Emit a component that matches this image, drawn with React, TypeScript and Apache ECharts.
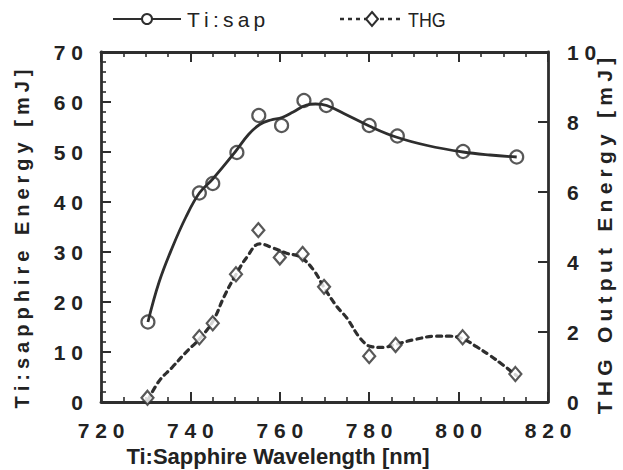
import React, { useEffect, useRef } from "react";
import * as echarts from "echarts";

// Measured points (Ti:sapphire energy, left axis, mJ)
const tiWavelength = [730.5, 742, 745, 750.4, 755.3, 760.4, 765.4, 770.4, 780, 786.3, 801, 813];
const tiEnergy = [16, 41.8, 43.7, 49.9, 57.3, 55.3, 60.3, 59.3, 55.3, 53.2, 50.1, 49];

// Measured points (THG output energy, right axis, mJ)
const thgWavelength = [730.4, 742, 745, 750.2, 755.2, 760, 765.1, 769.9, 780, 785.9, 800.9, 812.7];
const thgEnergy = [0.12, 1.85, 2.25, 3.65, 4.91, 4.13, 4.23, 3.29, 1.31, 1.63, 1.85, 0.8];

// Fitted curves as drawn in the figure
const tiFitX = [730.5, 733, 736, 739, 742, 745, 750, 753, 755.5, 758, 760.5, 763, 766, 768, 770.5, 775, 780, 786, 793, 801, 807, 813];
const tiFitY = [16, 24, 31, 37, 41.8, 44.6, 50, 53.5, 55.5, 56.4, 56.9, 58, 59.4, 59.6, 59.3, 57.4, 55.2, 53, 51.3, 50, 49.4, 49];

const thgFitX = [730.5, 733, 736, 739, 742, 745, 747.5, 750, 752.7, 755.5, 758.5, 761.5, 764.5, 767.5, 770, 772.8, 775, 778, 780.5, 783, 786, 790, 795, 798, 801, 804, 807, 810, 813];
const thgFitY = [0.05, 0.6, 1.0, 1.42, 1.8, 2.3, 3.0, 3.6, 4.15, 4.52, 4.4, 4.25, 4.15, 3.78, 3.25, 2.72, 2.4, 1.82, 1.58, 1.56, 1.65, 1.78, 1.88, 1.88, 1.8, 1.58, 1.33, 1.05, 0.75];

const xMin = 720, xMax = 820, xStep = 20;
const yLeftMax = 70, yLeftStep = 10;
const yRightMax = 10, yRightStep = 2;

const legendNames = ["Ti:sap", "THG"];
const xTitle = "Ti:Sapphire Wavelength [nm]";
const yLeftTitle = "Ti:sapphire Energy [mJ]";
const yRightTitle = "THG Output Energy [mJ]";

const INK = "#2e2e2e";
const FONT = "Liberation Sans, Arial, Helvetica, sans-serif";

const spaced = (s: string, sep: string) => s.split("").join(sep);
const digits = (v: number) => spaced(String(v), " ");

export default function App() {
  const ref = useRef<HTMLDivElement>(null);
  useEffect(() => {
    if (!ref.current) return;
    const chart = echarts.init(ref.current, undefined, { renderer: "svg" });
    const labelStyle = { fontSize: 21, fontWeight: "bold" as const, color: "#222", fontFamily: FONT };
    const axisLine = { show: true, onZero: false, lineStyle: { color: INK, width: 2.8 } };
    const xCommon = {
      type: "value" as const,
      min: xMin,
      max: xMax,
      interval: xStep,
      axisLine,
      axisTick: { show: true, inside: true, length: 10, lineStyle: { color: INK, width: 2 } },
      minorTick: { show: true, splitNumber: 4, length: 5, lineStyle: { color: INK, width: 1.6 } },
      splitLine: { show: false },
      minorSplitLine: { show: false },
    };
    const option: any = {
      animation: false,
      backgroundColor: "#ffffff",
      grid: { left: 101, right: 75, top: 52, bottom: 68, containLabel: false },
      xAxis: [
        { ...xCommon, position: "bottom", axisLabel: { ...labelStyle, margin: 18, formatter: digits } },
        { ...xCommon, position: "top", axisLabel: { show: false } },
      ],
      yAxis: [
        {
          type: "value",
          position: "left",
          min: 0,
          max: yLeftMax,
          interval: yLeftStep,
          axisLine,
          axisTick: { show: true, inside: true, length: 10, lineStyle: { color: INK, width: 2 } },
          minorTick: { show: true, splitNumber: 5, length: 5, lineStyle: { color: INK, width: 1.6 } },
          splitLine: { show: false },
          axisLabel: { ...labelStyle, margin: 18, formatter: digits },
        },
        {
          type: "value",
          position: "right",
          min: 0,
          max: yRightMax,
          interval: yRightStep,
          axisLine,
          axisTick: { show: true, inside: true, length: 10, lineStyle: { color: INK, width: 2 } },
          minorTick: { show: false },
          splitLine: { show: false },
          axisLabel: { ...labelStyle, margin: 19, formatter: digits },
        },
      ],
      series: [
        {
          name: "Ti:sap fit",
          type: "line",
          xAxisIndex: 0,
          yAxisIndex: 0,
          smooth: 0.4,
          showSymbol: false,
          data: tiFitX.map((x, i) => [x, tiFitY[i]]),
          lineStyle: { color: INK, width: 2.8 },
          z: 2,
        },
        {
          name: legendNames[0],
          type: "scatter",
          xAxisIndex: 0,
          yAxisIndex: 0,
          symbol: "circle",
          symbolSize: 13,
          data: tiWavelength.map((x, i) => [x, tiEnergy[i]]),
          itemStyle: { color: "rgba(255,255,255,0)", borderColor: INK, borderWidth: 2.2 },
          z: 3,
        },
        {
          name: "THG fit",
          type: "line",
          xAxisIndex: 0,
          yAxisIndex: 1,
          smooth: 0.4,
          showSymbol: false,
          data: thgFitX.map((x, i) => [x, thgFitY[i]]),
          lineStyle: { color: INK, width: 3.2, type: [5, 5], cap: "round" },
          z: 2,
        },
        {
          name: legendNames[1],
          type: "scatter",
          xAxisIndex: 0,
          yAxisIndex: 1,
          symbol: "diamond",
          symbolSize: [12, 14],
          data: thgWavelength.map((x, i) => [x, thgEnergy[i]]),
          itemStyle: { color: "#ffffff", borderColor: INK, borderWidth: 2.2 },
          z: 3,
        },
      ],
      graphic: [
        // legend
        { type: "line", shape: { x1: 113, y1: 19, x2: 181, y2: 19 }, style: { stroke: INK, lineWidth: 2.2 } },
        { type: "circle", shape: { cx: 147, cy: 19, r: 5 }, style: { fill: "#fff", stroke: INK, lineWidth: 2 } },
        {
          type: "text", x: 187, y: 19,
          style: { text: spaced(legendNames[0], "\u2009"), fontSize: 21, fontFamily: FONT, fill: "#222", textVerticalAlign: "middle" },
        },
        { type: "line", shape: { x1: 340, y1: 19, x2: 404, y2: 19 }, style: { stroke: INK, lineWidth: 2.6, lineDash: [4, 4] } },
        { type: "polygon", shape: { points: [[372, 12], [378, 19], [372, 26], [366, 19]] }, style: { fill: "#fff", stroke: INK, lineWidth: 2 } },
        {
          type: "text", x: 408, y: 19, scaleX: 0.85,
          style: { text: legendNames[1], fontSize: 21, fontFamily: FONT, fill: "#222", textVerticalAlign: "middle" },
        },
        // axis titles
        {
          type: "text", x: 278, y: 456,
          style: { text: xTitle, fontSize: 22, fontWeight: "bold", fontFamily: FONT, fill: "#222", textAlign: "center", textVerticalAlign: "middle" },
        },
        {
          type: "text", x: 22, y: 239, rotation: Math.PI / 2,
          style: { text: spaced(yLeftTitle, "\u2005"), fontSize: 20, fontWeight: "bold", fontFamily: FONT, fill: "#222", textAlign: "center", textVerticalAlign: "middle" },
        },
        {
          type: "text", x: 604, y: 236, rotation: Math.PI / 2,
          style: { text: spaced(yRightTitle, "\u2005"), fontSize: 21, fontWeight: "bold", fontFamily: FONT, fill: "#222", textAlign: "center", textVerticalAlign: "middle" },
        },
      ],
    };
    chart.setOption(option);
    return () => chart.dispose();
  }, []);
  return <div ref={ref} style={{ position: "fixed", left: 0, top: 0, width: 623, height: 470 }} />;
}
